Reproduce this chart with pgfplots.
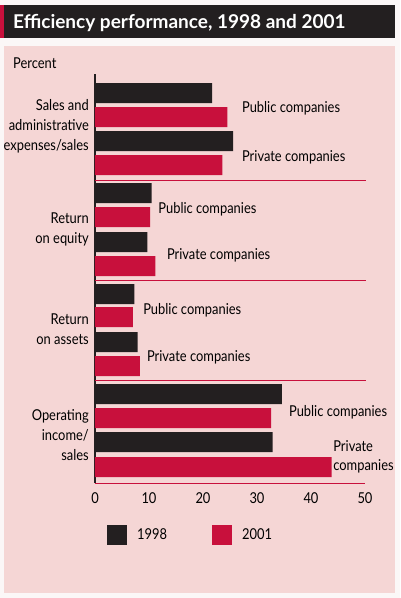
\documentclass[border=0pt]{standalone}
\usepackage{fontspec}
\setmainfont[FakeStretch=0.86]{Lato}
\newfontfamily\titlefont{Lato}
\usepackage{pgfplots}
\pgfplotsset{compat=1.18}
\definecolor{barblack}{HTML}{231F20}
\definecolor{crimson}{HTML}{C8103C}
\definecolor{panelpink}{HTML}{F5D6D5}
\definecolor{pagebg}{HTML}{FBF7F7}
\newcommand{\lbl}{\fontsize{15}{20}\selectfont}
\begin{document}
\begin{tikzpicture}
\path[use as bounding box] (0,0) rectangle (400pt,-598pt);
\fill[pagebg] (0,0) rectangle (400pt,-598pt);
\fill[barblack] (0,-5pt) rectangle (395pt,-38pt);
\fill[crimson] (0,-5pt) rectangle (4pt,-38pt);
\node[anchor=base west, inner sep=0pt, text=white, font=\titlefont\fontsize{19}{22}\selectfont\bfseries] at (13pt,-28.5pt) {Efficiency performance, 1998 and 2001};
\fill[panelpink] (4pt,-46pt) rectangle (395pt,-593pt);
\node[anchor=base west, inner sep=0pt, font=\lbl] at (13pt,-68pt) {Percent};
\begin{axis}[
  at={(95pt,-483pt)}, anchor=south west,
  scale only axis, width=270pt, height=409pt,
  xmin=0, xmax=50, ymin=0, ymax=4.09,
  clip=false,
  axis x line*=bottom, axis y line*=left,
  x axis line style={crimson, line width=0.8pt, -},
  y axis line style={barblack, line width=1.3pt, -},
  major tick length=0pt,
  xtick={0,10,20,30,40,50},
  ytick={3.57,2.54,1.54,0.48},
  yticklabels={{Sales and\\administrative\\expenses/sales},{Return\\on equity},{Return\\on assets},{Operating\\income/\\sales}},
  yticklabel style={align=right, font=\lbl, inner sep=0pt, xshift=-6pt},
  xticklabel style={font=\lbl, inner sep=0pt, yshift=-9pt},
  /pgf/number format/assume math mode=true,
  legend columns=2,
  legend image code/.code={\fill[#1] (0pt,-10pt) rectangle (20pt,10pt);},
  legend style={at={(0.0444,-0.127)}, anchor=west, draw=none, fill=none, inner sep=0pt, font=\lbl,
    nodes={inner sep=0pt},
    /tikz/every odd column/.style={column sep=10pt},
    /tikz/every even column/.style={column sep=45pt}},
]
\addplot[xbar, bar width=0.2, bar shift=0pt, fill=barblack, draw=none] coordinates {
(21.7,3.90) (25.6,3.42) (10.5,2.90) (9.7,2.41) (7.3,1.89) (7.9,1.41) (34.6,0.89) (32.9,0.41)};
\addlegendentry{1998}
\addplot[xbar, bar width=0.2, bar shift=0pt, fill=crimson, draw=none] coordinates {
(24.5,3.66) (23.6,3.18) (10.2,2.66) (11.2,2.17) (7.0,1.66) (8.3,1.17) (32.6,0.65) (43.8,0.16)};
\addlegendentry{2001}
\addplot[crimson, line width=0.7pt, forget plot] coordinates {(0,3.03) (50.2,3.03)};
\addplot[crimson, line width=0.7pt, forget plot] coordinates {(0,2.03) (50.2,2.03)};
\addplot[crimson, line width=0.7pt, forget plot] coordinates {(0,1.03) (50.2,1.03)};
\node[anchor=base west, inner sep=0pt, font=\lbl] at (axis cs:27.2,3.71) {Public companies};
\node[anchor=base west, inner sep=0pt, font=\lbl] at (axis cs:27.2,3.22) {Private companies};
\node[anchor=base west, inner sep=0pt, font=\lbl] at (axis cs:11.7,2.70) {Public companies};
\node[anchor=base west, inner sep=0pt, font=\lbl] at (axis cs:13.3,2.24) {Private companies};
\node[anchor=base west, inner sep=0pt, font=\lbl] at (axis cs:8.9,1.69) {Public companies};
\node[anchor=base west, inner sep=0pt, font=\lbl] at (axis cs:9.6,1.22) {Private companies};
\node[anchor=base west, inner sep=0pt, font=\lbl] at (axis cs:35.9,0.67) {Public companies};
\node[anchor=base west, inner sep=0pt, font=\lbl] at (axis cs:44.1,0.32) {Private};
\node[anchor=base west, inner sep=0pt, font=\lbl] at (axis cs:44.1,0.13) {companies};
\end{axis}
\end{tikzpicture}
\end{document}
